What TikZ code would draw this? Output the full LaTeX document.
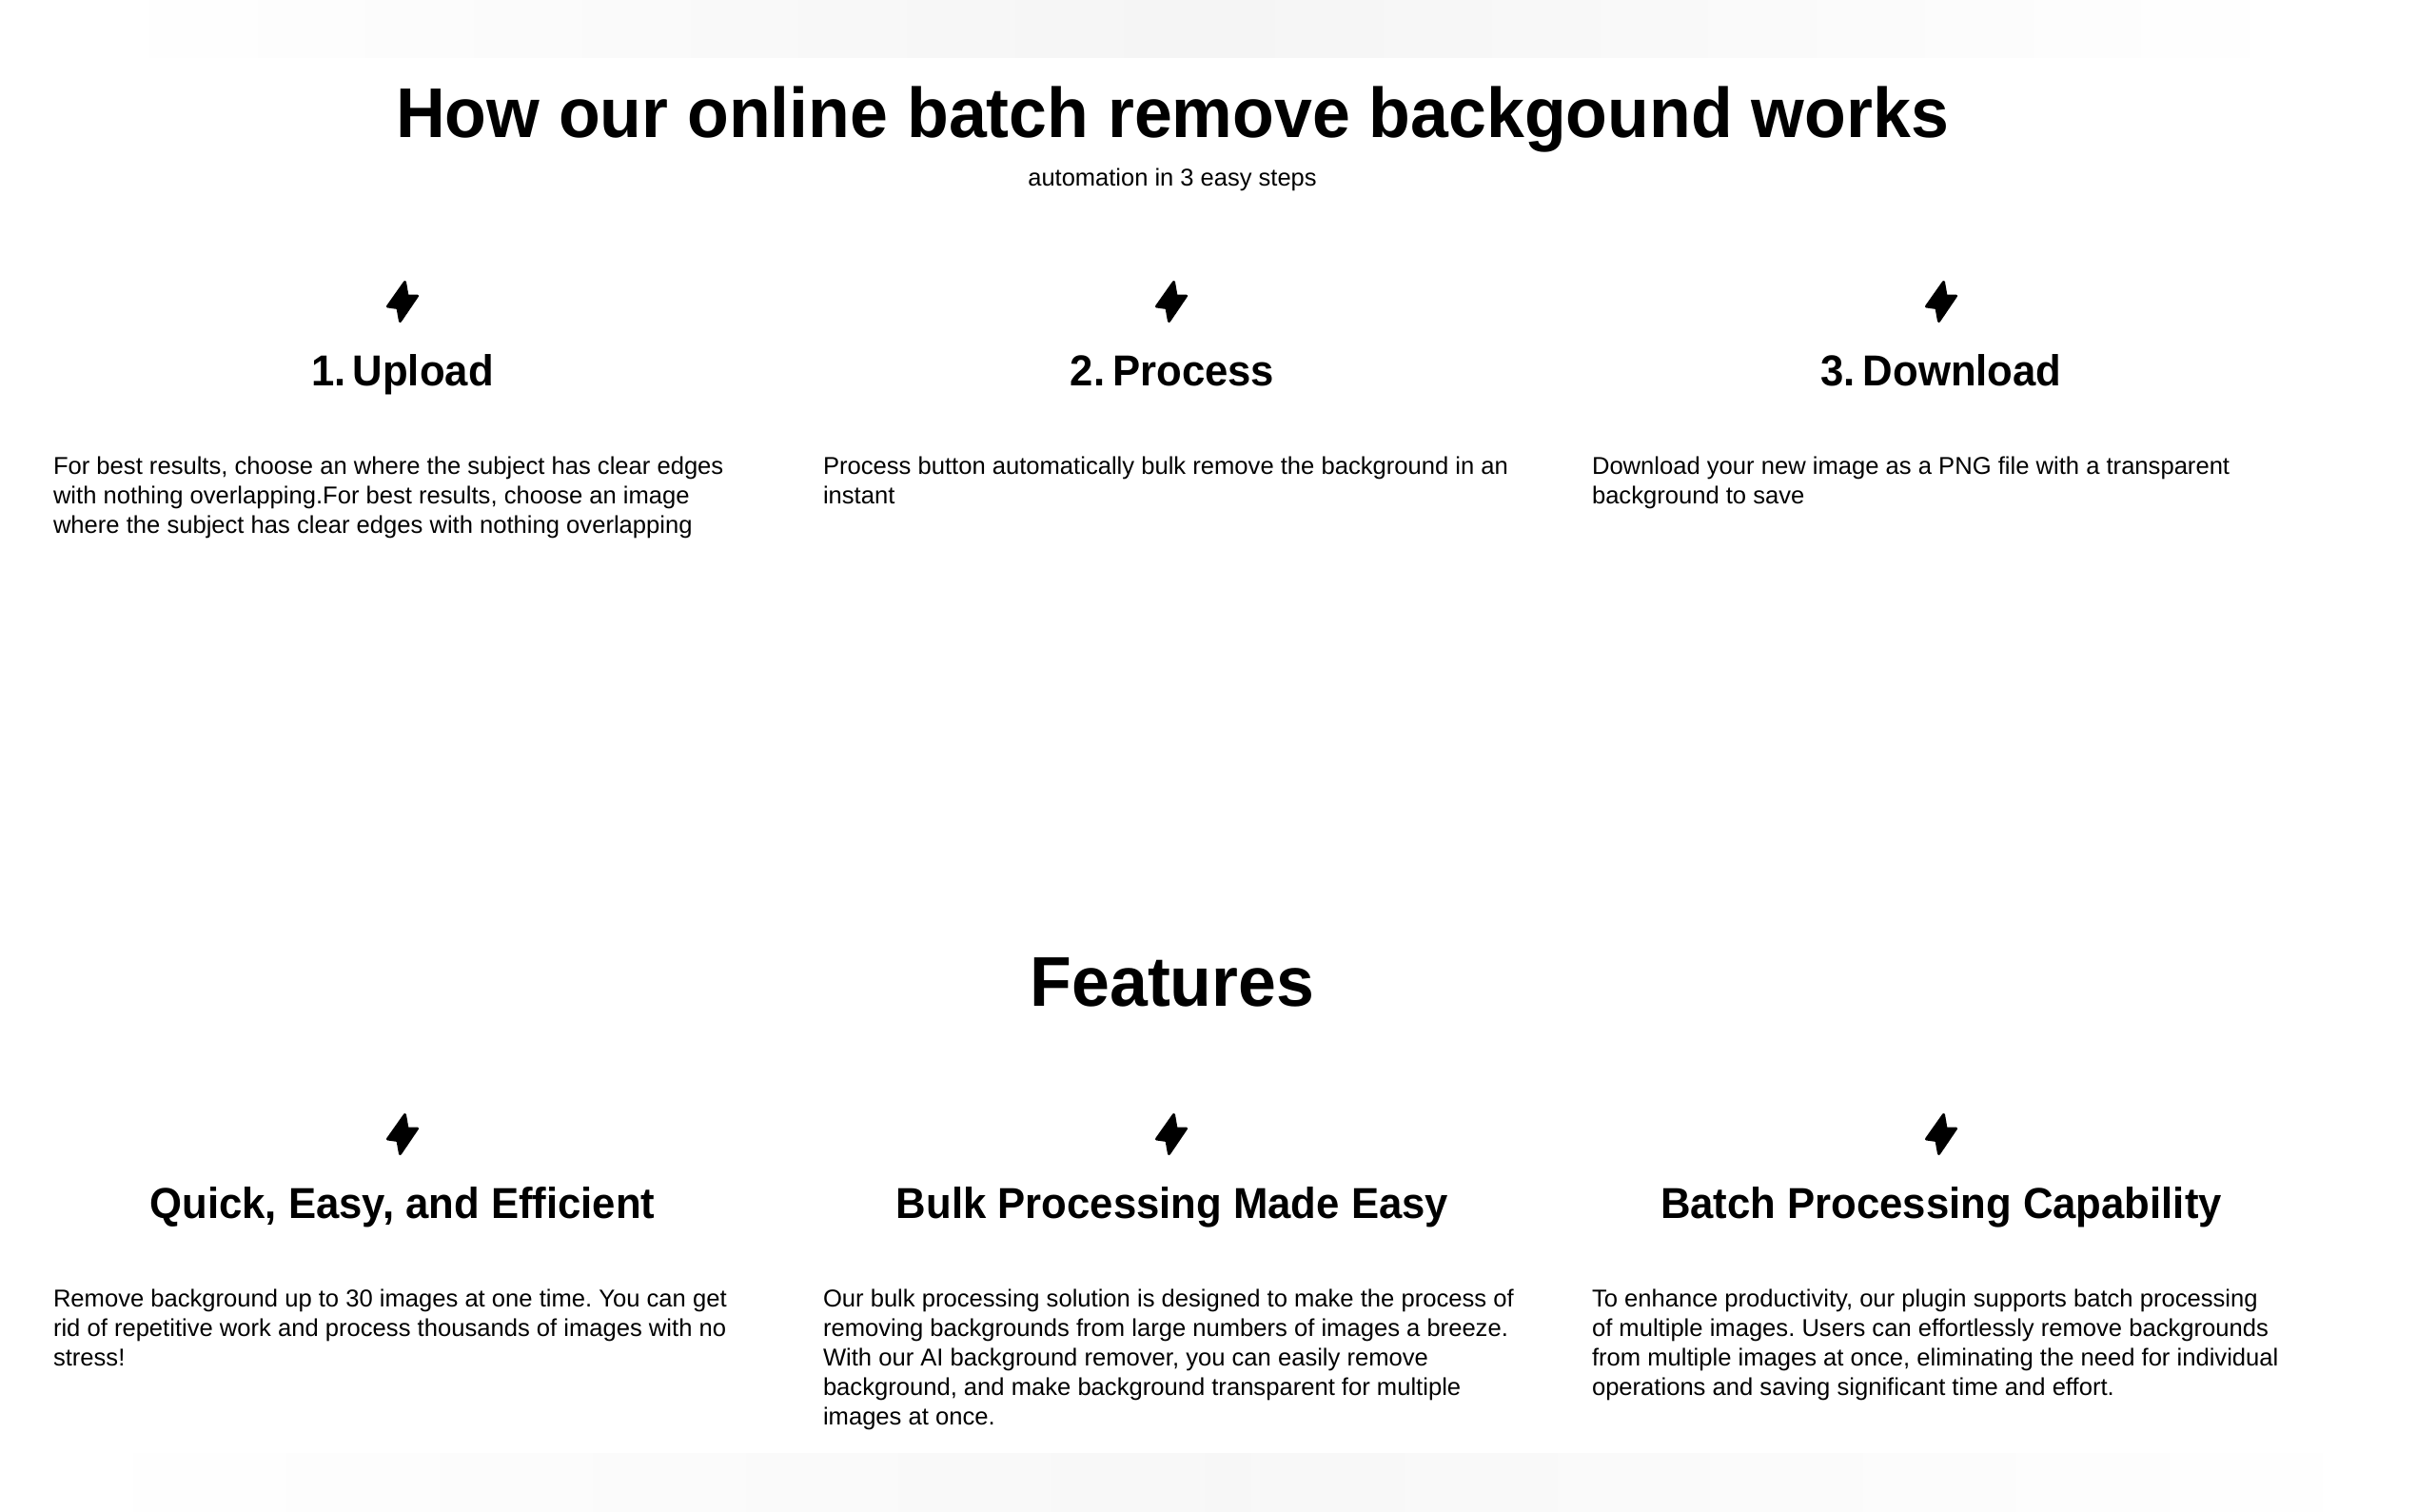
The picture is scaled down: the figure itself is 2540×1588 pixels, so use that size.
\documentclass[tikz,border=0pt]{standalone}
\usepackage{fontspec}
\setmainfont{Liberation Sans}
\newfontfamily\titlefam[FakeStretch=0.968]{Liberation Sans}
\newfontfamily\headfam[FakeStretch=0.96]{Liberation Sans}
\frenchspacing
\tikzset{
  x=1pt,y=-1pt,
  ink/.style={text=black,inner sep=0pt,outer sep=0pt},
  maintitle/.style={ink,anchor=base,font=\titlefam\fontsize{74}{80}\selectfont\bfseries},
  subtitle/.style={ink,anchor=base,font=\fontsize{25.5}{31}\selectfont},
  cardhead/.style={ink,anchor=base,font=\headfam\fontsize{45.5}{50}\selectfont\bfseries},
  cardbody/.style={ink,anchor=north west,align=left,execute at begin node=\strut,font=\fontsize{25.6}{31}\selectfont},
  band/.style={draw=none,left color=white,right color=white},
  boltmark/.style={fill=black,draw=black,line width=3pt,line join=round},
}
\newcommand{\boltat}[2]{%
  \draw[boltmark] (#1+2.5,#2-20.5) -- (#1+5,#2-6) -- (#1+15.5,#2-6) -- (#1-2.5,#2+20.5)
    -- (#1-5,#2+6.5) -- (#1-15.5,#2+5) -- cycle;}
\begin{document}
\begin{tikzpicture}
\useasboundingbox (0,0) rectangle (2540,1588);
\fill[white] (0,0) rectangle (2540,1588);
% faded bands, top and bottom
\shade[band,middle color=black!4] (100,0) rectangle (2420,60);
\shade[band,middle color=black!3] (60,1527) rectangle (2520,1588);
% headings
\node[maintitle] (title) at (1232,144) {How our online batch remove backgound works};
\node[subtitle] (sub) at (1232,195) {automation in 3 easy steps};
\node[maintitle] (features) at (1232,1057) {Features};
% steps
\boltat{423}{317}
\boltat{1231}{317}
\boltat{2040}{317}
\node[cardhead] (h1) at (423,405) {1.\hspace{7pt}Upload};
\node[cardhead] (h2) at (1232,405) {2.\hspace{8pt}Process};
\node[cardhead] (h3) at (2040,405) {3.\hspace{8pt}Download};
\node[cardbody] (b1) at (56,480) {For best results, choose an where the subject has clear edges\\with nothing overlapping.For best results, choose an image\\where the subject has clear edges with nothing overlapping};
\node[cardbody] (b2) at (865,480) {Process button automatically bulk remove the background in an\\instant};
\node[cardbody] (b3) at (1673,480) {Download your new image as a PNG file with a transparent\\background to save};
% features
\boltat{423}{1192}
\boltat{1231}{1192}
\boltat{2040}{1192}
\node[cardhead] (h4) at (423,1280) {Quick, Easy, and Efficient};
\node[cardhead] (h5) at (1232,1280) {Bulk Processing Made Easy};
\node[cardhead] (h6) at (2040,1280) {Batch Processing Capability};
\node[cardbody] (b4) at (56,1355) {Remove background up to 30 images at one time. You can get\\rid of repetitive work and process thousands of images with no\\stress!};
\node[cardbody] (b5) at (865,1355) {Our bulk processing solution is designed to make the process of\\removing backgrounds from large numbers of images a breeze.\\With our AI background remover, you can easily remove\\background, and make background transparent for multiple\\images at once.};
\node[cardbody] (b6) at (1673,1355) {To enhance productivity, our plugin supports batch processing\\of multiple images. Users can effortlessly remove backgrounds\\from multiple images at once, eliminating the need for individual\\operations and saving significant time and effort.};
\end{tikzpicture}
\end{document}
